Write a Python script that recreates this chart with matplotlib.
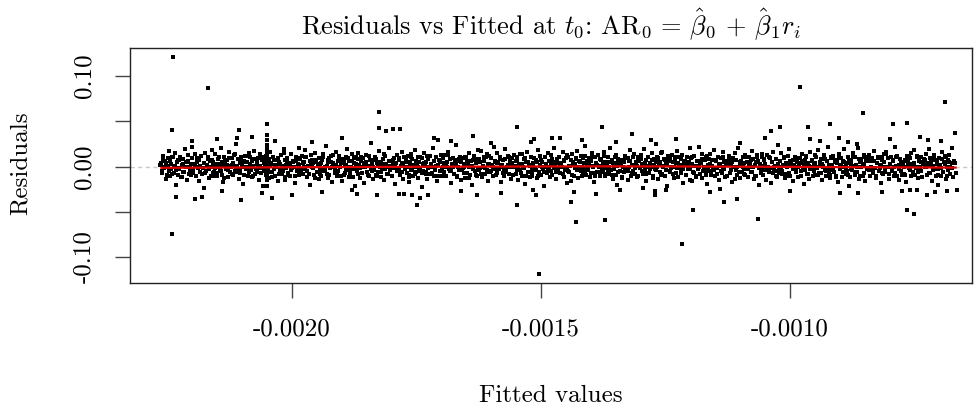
import numpy as np
import matplotlib
matplotlib.use("Agg")
import matplotlib.pyplot as plt

plt.rcParams['font.family'] = 'cmr10'
plt.rcParams['mathtext.fontset'] = 'cm'
plt.rcParams['axes.unicode_minus'] = False

# fitted values, in units of -1e-6 (so 2262 means -0.002262)
fitted_neg_micro = [
    2262, 2260, 2259, 2257, 2255, 2252, 2251, 2249, 2247, 2246, 2244, 2242, 2240, 2239, 2236, 2234, 2233, 2231, 2229, 2227,
    2226, 2225, 2223, 2221, 2219, 2218, 2215, 2213, 2211, 2210, 2208, 2205, 2204, 2202, 2200, 2198, 2197, 2195, 2193, 2191,
    2191, 2189, 2187, 2186, 2184, 2182, 2180, 2177, 2176, 2174, 2172, 2171, 2169, 2167, 2164, 2163, 2161, 2159, 2158, 2156,
    2156, 2154, 2153, 2151, 2149, 2146, 2145, 2143, 2141, 2140, 2138, 2136, 2134, 2133, 2130, 2128, 2127, 2125, 2123, 2121,
    2120, 2119, 2117, 2115, 2113, 2112, 2109, 2107, 2105, 2104, 2102, 2099, 2098, 2096, 2094, 2092, 2091, 2089, 2087, 2085,
    2085, 2083, 2081, 2080, 2078, 2076, 2074, 2071, 2070, 2068, 2066, 2065, 2063, 2061, 2058, 2057, 2055, 2053, 2052, 2050,
    2049, 2047, 2046, 2044, 2042, 2039, 2038, 2036, 2034, 2033, 2031, 2029, 2027, 2026, 2023, 2021, 2020, 2018, 2016, 2014,
    2014, 2013, 2011, 2009, 2007, 2006, 2003, 2001, 1999, 1998, 1996, 1993, 1992, 1990, 1988, 1986, 1985, 1983, 1981, 1979,
    1978, 1976, 1974, 1973, 1971, 1969, 1967, 1964, 1963, 1961, 1959, 1958, 1956, 1954, 1951, 1950, 1948, 1946, 1945, 1943,
    1943, 1941, 1940, 1938, 1936, 1933, 1932, 1930, 1928, 1927, 1925, 1923, 1921, 1920, 1917, 1915, 1914, 1912, 1910, 1908,
    1907, 1906, 1904, 1902, 1900, 1899, 1896, 1894, 1892, 1891, 1889, 1886, 1885, 1883, 1881, 1879, 1878, 1876, 1874, 1872,
    1872, 1870, 1868, 1867, 1865, 1863, 1861, 1858, 1857, 1855, 1853, 1852, 1850, 1848, 1845, 1844, 1842, 1840, 1839, 1837,
    1837, 1835, 1834, 1832, 1830, 1827, 1826, 1824, 1822, 1821, 1819, 1817, 1815, 1814, 1811, 1809, 1808, 1806, 1804, 1802,
    1801, 1800, 1798, 1796, 1794, 1793, 1790, 1788, 1786, 1785, 1783, 1780, 1779, 1777, 1775, 1773, 1772, 1770, 1768, 1766,
    1766, 1764, 1762, 1761, 1759, 1757, 1755, 1752, 1751, 1749, 1747, 1746, 1744, 1742, 1739, 1738, 1736, 1734, 1733, 1731,
    1730, 1728, 1727, 1725, 1723, 1720, 1719, 1717, 1715, 1714, 1712, 1710, 1708, 1707, 1704, 1702, 1701, 1699, 1697, 1695,
    1695, 1694, 1692, 1690, 1688, 1687, 1684, 1682, 1680, 1679, 1677, 1674, 1673, 1671, 1669, 1667, 1666, 1664, 1662, 1660,
    1659, 1657, 1655, 1654, 1652, 1650, 1648, 1645, 1644, 1642, 1640, 1639, 1637, 1635, 1632, 1631, 1629, 1627, 1626, 1624,
    1624, 1622, 1621, 1619, 1617, 1614, 1613, 1611, 1609, 1608, 1606, 1604, 1602, 1601, 1598, 1596, 1595, 1593, 1591, 1589,
    1589, 1588, 1586, 1584, 1582, 1581, 1578, 1576, 1574, 1573, 1571, 1568, 1567, 1565, 1563, 1561, 1560, 1558, 1556, 1554,
    1553, 1551, 1549, 1548, 1546, 1544, 1542, 1539, 1538, 1536, 1534, 1533, 1531, 1529, 1526, 1525, 1523, 1521, 1520, 1518,
    1518, 1516, 1515, 1513, 1511, 1508, 1507, 1505, 1503, 1502, 1500, 1498, 1496, 1495, 1492, 1490, 1489, 1487, 1485, 1483,
    1482, 1481, 1479, 1477, 1475, 1474, 1471, 1469, 1467, 1466, 1464, 1461, 1460, 1458, 1456, 1454, 1453, 1451, 1449, 1447,
    1447, 1445, 1443, 1442, 1440, 1438, 1436, 1433, 1432, 1430, 1428, 1427, 1425, 1423, 1420, 1419, 1417, 1415, 1414, 1412,
    1411, 1409, 1408, 1406, 1404, 1401, 1400, 1398, 1396, 1395, 1393, 1391, 1389, 1388, 1385, 1383, 1382, 1380, 1378, 1376,
    1376, 1375, 1373, 1371, 1369, 1368, 1365, 1363, 1361, 1360, 1358, 1355, 1354, 1352, 1350, 1348, 1347, 1345, 1343, 1341,
    1340, 1338, 1336, 1335, 1333, 1331, 1329, 1326, 1325, 1323, 1321, 1320, 1318, 1316, 1313, 1312, 1310, 1308, 1307, 1305,
    1305, 1303, 1302, 1300, 1298, 1295, 1294, 1292, 1290, 1289, 1287, 1285, 1283, 1282, 1279, 1277, 1276, 1274, 1272, 1270,
    1270, 1269, 1267, 1265, 1263, 1262, 1259, 1257, 1255, 1254, 1252, 1249, 1248, 1246, 1244, 1242, 1241, 1239, 1237, 1235,
    1234, 1232, 1230, 1229, 1227, 1225, 1223, 1220, 1219, 1217, 1215, 1214, 1212, 1210, 1207, 1206, 1204, 1202, 1201, 1199,
    1199, 1197, 1196, 1194, 1192, 1189, 1188, 1186, 1184, 1183, 1181, 1179, 1177, 1176, 1173, 1171, 1170, 1168, 1166, 1164,
    1163, 1162, 1160, 1158, 1156, 1155, 1152, 1150, 1148, 1147, 1145, 1142, 1141, 1139, 1137, 1135, 1134, 1132, 1130, 1128,
    1128, 1126, 1124, 1123, 1121, 1119, 1117, 1114, 1113, 1111, 1109, 1108, 1106, 1104, 1101, 1100, 1098, 1096, 1095, 1093,
    1092, 1090, 1089, 1087, 1085, 1082, 1081, 1079, 1077, 1076, 1074, 1072, 1070, 1069, 1066, 1064, 1063, 1061, 1059, 1057,
    1057, 1056, 1054, 1052, 1050, 1049, 1046, 1044, 1042, 1041, 1039, 1036, 1035, 1033, 1031, 1029, 1028, 1026, 1024, 1022,
    1022, 1020, 1018, 1017, 1015, 1013, 1011, 1008, 1007, 1005, 1003, 1002, 1000, 998, 995, 994, 992, 990, 989, 987,
    986, 984, 983, 981, 979, 976, 975, 973, 971, 970, 968, 966, 964, 963, 960, 958, 957, 955, 953, 951,
    951, 950, 948, 946, 944, 943, 940, 938, 936, 935, 933, 930, 929, 927, 925, 923, 922, 920, 918, 916,
    915, 913, 911, 910, 908, 906, 904, 901, 900, 898, 896, 895, 893, 891, 888, 887, 885, 883, 882, 880,
    880, 878, 877, 875, 873, 870, 869, 867, 865, 864, 862, 860, 858, 857, 854, 852, 851, 849, 847, 845,
    844, 843, 841, 839, 837, 836, 833, 831, 829, 828, 826, 823, 822, 820, 818, 816, 815, 813, 811, 809,
    809, 807, 805, 804, 802, 800, 798, 795, 794, 792, 790, 789, 787, 785, 782, 781, 779, 777, 776, 774,
    773, 771, 770, 768, 766, 763, 762, 760, 758, 757, 755, 753, 751, 750, 747, 745, 744, 742, 740, 738,
    738, 737, 735, 733, 731, 730, 727, 725, 723, 722, 720, 717, 716, 714, 712, 710, 709, 707, 705, 703,
    703, 701, 699, 698, 696, 694, 692, 689, 688, 686, 684, 683, 681, 679, 676, 675, 673, 671, 670, 668,
]

# residuals, in units of 1e-3, same order as fitted_neg_micro
resid_milli = [
    4, -7, 12, -2, 6, -14, 1, 9, -5, 17, -10, 3, -8, 11, -1, 15, -20, 5, -9, 7,
    -3, 10, -12, 2, 8, -6, 19, -1, -15, 5, 13, -4, 0, -9, 22, -7, 3, 14, -11, 6,
    9, -2, -16, 7, 1, 12, -8, 4, -24, 15, -5, 2, 10, -13, 6, -1, 18, -7, 3, -10,
    -6, 14, 3, -11, 8, 0, -4, 21, -9, 5, -17, 11, 2, -3, 7, -12, 16, -6, 1, 9,
    2, -9, 13, -5, 25, -1, 8, -14, 4, -7, 10, 0, -19, 6, 12, -3, 5, -10, 15, -2,
    11, -4, 6, -12, 1, 17, -8, 3, -6, 9, -15, 14, -2, 7, -21, 4, 0, 12, -9, 5,
    -1, 8, -13, 16, 3, -6, 10, -3, 28, -10, 2, 7, -16, 5, -4, 13, -8, 1, 19, -12,
    7, -15, 2, 9, -7, 4, -11, 14, -2, 6, 0, -18, 11, -5, 3, 20, -9, 8, -3, 12,
    -8, 5, 18, -3, 10, -12, 1, 6, -20, 13, -1, 4, -9, 15, 7, -6, 2, -14, 9, -4,
    3, -10, 7, 14, -5, 0, 23, -8, 5, -13, 9, -2, 12, -17, 4, 1, -7, 16, -11, 6,
    -5, 12, -1, 4, -16, 8, -9, 2, 11, -4, 19, -12, 6, -7, 0, 14, -3, 9, -22, 3,
    10, -3, -8, 15, 2, -13, 6, -1, 9, -18, 4, 13, -6, 1, -10, 7, 26, -5, 2, -14,
    -2, 7, 11, -9, 4, -6, 17, 0, -12, 5, -3, 8, -15, 12, 3, -8, 1, 21, -4, 6,
    6, -11, 3, 9, -19, 1, 13, -5, 7, -2, -9, 16, 4, -14, 10, -1, 5, -7, 12, -17,
    -9, 2, 14, -4, 8, -10, 0, 18, -6, 3, 11, -13, 5, -2, -23, 9, -5, 15, 1, -8,
    5, -14, 8, -1, 12, 3, -7, 20, -10, 6, -3, 10, -16, 2, 7, -5, 13, -11, 0, 4,
    13, -6, 1, -10, 5, 16, -3, 8, -18, 2, 9, -8, 4, 24, -12, 0, 6, -4, 11, -15,
    -4, 9, -7, 3, -13, 11, 6, -1, 15, -9, 1, -20, 7, 12, -5, 4, -11, 18, -2, 8,
    8, -2, 17, -12, 0, 6, -8, 10, -4, 14, -16, 3, -6, 9, 1, -10, 22, -3, 5, -7,
    -7, 15, 4, -3, 10, -17, 2, 7, -11, 19, -5, 0, 12, -8, 6, -14, 3, 9, -1, 13,
    1, -8, 11, 6, -15, 3, -4, 14, -10, 0, 8, -19, 5, 16, -6, 2, -12, 10, 27, -3,
    -11, 4, 9, -2, 7, -13, 18, -6, 1, 12, -9, 5, -3, -21, 10, 3, -7, 15, -1, 6,
    6, -5, 13, -9, 2, 20, -1, -14, 8, -3, 11, -7, 4, 0, 16, -12, 7, -4, 9, -18,
    -3, 10, -6, 1, -16, 14, 5, -10, 3, 8, -2, 17, -13, 6, -5, 12, 0, -8, 4, 23,
    12, -9, 2, -4, 9, -12, 6, 15, -7, 1, -17, 10, 3, -6, 13, -1, -11, 7, -3, 5,
    -6, 3, 16, -11, 5, -2, 10, -8, 21, -4, 7, -14, 1, 11, -9, 4, -20, 8, 2, -5,
    4, -13, 7, 0, -6, 12, -3, 9, -15, 6, 18, -10, 2, -5, 14, -8, 5, 1, -12, 10,
    -10, 6, -2, 13, 3, -8, 19, -4, 7, -16, 1, 11, -7, 4, -1, 15, -13, 8, -3, 25,
    7, -4, 10, -14, 2, 5, -9, 16, -1, 8, -11, 3, -22, 12, 6, -5, 9, -2, 13, -8,
    -1, 11, -7, 4, 17, -12, 0, 8, -5, 13, -18, 6, 2, -9, 10, -3, 5, -15, 20, 1,
    9, -16, 3, -6, 12, 1, -10, 6, -3, 22, -8, 4, 14, -13, 0, 7, -5, 11, -19, 2,
    -5, 8, 14, -9, 1, -4, 18, -11, 6, -2, 10, -15, 3, 9, -7, 16, -1, 5, -12, 4,
    3, -11, 6, 12, -7, 2, -17, 9, 0, 15, -4, 7, -9, 21, -13, 5, 1, -6, 10, -2,
    -8, 13, -3, 5, -12, 10, 4, -6, 17, -1, 8, -14, 2, -10, 11, 6, -20, 3, -4, 14,
    11, -2, -9, 7, 3, -15, 13, 0, -6, 9, -18, 5, 16, -3, 1, -11, 8, -5, 24, -7,
    -4, 6, 15, -8, 2, 10, -13, 4, -1, 12, -7, 19, -10, 3, -16, 7, 0, 11, -5, 8,
    5, -12, 1, 9, -5, 14, -3, -19, 7, 2, 11, -8, 4, -14, 16, -2, 6, -10, 3, 13,
    -9, 4, 10, -1, 18, -7, 3, 8, -15, 1, 13, -4, -11, 6, 22, -6, 2, -13, 9, 0,
    2, 12, -6, 5, -10, 7, -17, 14, -3, 9, 0, -12, 6, 19, -8, 3, -5, 11, -21, 4,
    -12, 7, 3, -4, 15, -9, 10, 1, -6, 20, -14, 5, -1, 8, -10, 13, 2, -16, 6, -3,
    8, -3, 13, -11, 0, 6, -7, 17, -2, -13, 4, 10, -5, 2, -18, 11, 7, -8, 14, -1,
    -6, 16, -1, 9, -14, 3, 11, -4, 6, -10, 22, -7, 1, 12, -3, -15, 8, 4, -9, 5,
    1, -8, 7, -17, 12, 5, -2, 9, -11, 15, 3, -6, 18, -9, 0, 10, -13, 6, -4, 11,
    10, -5, -12, 4, 8, -1, 14, -9, 2, 19, -7, 6, -16, 1, 11, -3, 7, -11, 3, -20,
    -3, 9, 2, -10, 16, -6, 5, 12, -14, 0, 7, -4, 13, -8, 21, -2, -12, 6, 4, -7,
]

# second batch of points near the centre of the band (same units)
inner_neg_micro = [
    2264, 2261, 2259, 2256, 2253, 2251, 2248, 2245, 2243, 2240, 2237, 2235, 2232, 2229, 2227, 2224, 2221, 2219, 2216, 2213,
    2211, 2209, 2206, 2203, 2201, 2198, 2195, 2193, 2190, 2187, 2185, 2182, 2179, 2177, 2174, 2171, 2169, 2166, 2163, 2160,
    2158, 2155, 2153, 2150, 2147, 2145, 2142, 2139, 2137, 2134, 2131, 2129, 2126, 2123, 2121, 2118, 2115, 2113, 2110, 2107,
    2105, 2103, 2100, 2097, 2095, 2092, 2089, 2087, 2084, 2081, 2079, 2076, 2073, 2071, 2068, 2065, 2063, 2060, 2057, 2054,
    2052, 2049, 2047, 2044, 2041, 2039, 2036, 2033, 2031, 2028, 2025, 2023, 2020, 2017, 2015, 2012, 2009, 2007, 2004, 2001,
    1999, 1997, 1994, 1991, 1989, 1986, 1983, 1981, 1978, 1975, 1973, 1970, 1967, 1965, 1962, 1959, 1957, 1954, 1951, 1948,
    1946, 1943, 1941, 1938, 1935, 1933, 1930, 1927, 1925, 1922, 1919, 1917, 1914, 1911, 1909, 1906, 1903, 1901, 1898, 1895,
    1893, 1891, 1888, 1885, 1883, 1880, 1877, 1875, 1872, 1869, 1867, 1864, 1861, 1859, 1856, 1853, 1851, 1848, 1845, 1842,
    1840, 1837, 1835, 1832, 1829, 1827, 1824, 1821, 1819, 1816, 1813, 1811, 1808, 1805, 1803, 1800, 1797, 1795, 1792, 1789,
    1787, 1785, 1782, 1779, 1777, 1774, 1771, 1769, 1766, 1763, 1761, 1758, 1755, 1753, 1750, 1747, 1745, 1742, 1739, 1736,
    1734, 1731, 1729, 1726, 1723, 1721, 1718, 1715, 1713, 1710, 1707, 1705, 1702, 1699, 1697, 1694, 1691, 1689, 1686, 1683,
    1681, 1679, 1676, 1673, 1671, 1668, 1665, 1663, 1660, 1657, 1655, 1652, 1649, 1647, 1644, 1641, 1639, 1636, 1633, 1630,
    1628, 1625, 1623, 1620, 1617, 1615, 1612, 1609, 1607, 1604, 1601, 1599, 1596, 1593, 1591, 1588, 1585, 1583, 1580, 1577,
    1575, 1573, 1570, 1567, 1565, 1562, 1559, 1557, 1554, 1551, 1549, 1546, 1543, 1541, 1538, 1535, 1533, 1530, 1527, 1524,
    1522, 1519, 1517, 1514, 1511, 1509, 1506, 1503, 1501, 1498, 1495, 1493, 1490, 1487, 1485, 1482, 1479, 1477, 1474, 1471,
    1469, 1467, 1464, 1461, 1459, 1456, 1453, 1451, 1448, 1445, 1443, 1440, 1437, 1435, 1432, 1429, 1427, 1424, 1421, 1418,
    1416, 1413, 1411, 1408, 1405, 1403, 1400, 1397, 1395, 1392, 1389, 1387, 1384, 1381, 1379, 1376, 1373, 1371, 1368, 1365,
    1363, 1361, 1358, 1355, 1353, 1350, 1347, 1345, 1342, 1339, 1337, 1334, 1331, 1329, 1326, 1323, 1321, 1318, 1315, 1312,
    1310, 1307, 1305, 1302, 1299, 1297, 1294, 1291, 1289, 1286, 1283, 1281, 1278, 1275, 1273, 1270, 1267, 1265, 1262, 1259,
    1257, 1255, 1252, 1249, 1247, 1244, 1241, 1239, 1236, 1233, 1231, 1228, 1225, 1223, 1220, 1217, 1215, 1212, 1209, 1206,
    1204, 1201, 1199, 1196, 1193, 1191, 1188, 1185, 1183, 1180, 1177, 1175, 1172, 1169, 1167, 1164, 1161, 1159, 1156, 1153,
    1151, 1149, 1146, 1143, 1141, 1138, 1135, 1133, 1130, 1127, 1125, 1122, 1119, 1117, 1114, 1111, 1109, 1106, 1103, 1100,
    1098, 1095, 1093, 1090, 1087, 1085, 1082, 1079, 1077, 1074, 1071, 1069, 1066, 1063, 1061, 1058, 1055, 1053, 1050, 1047,
    1045, 1043, 1040, 1037, 1035, 1032, 1029, 1027, 1024, 1021, 1019, 1016, 1013, 1011, 1008, 1005, 1003, 1000, 997, 994,
    992, 989, 987, 984, 981, 979, 976, 973, 971, 968, 965, 963, 960, 957, 955, 952, 949, 947, 944, 941,
    939, 937, 934, 931, 929, 926, 923, 921, 918, 915, 913, 910, 907, 905, 902, 899, 897, 894, 891, 888,
    886, 883, 881, 878, 875, 873, 870, 867, 865, 862, 859, 857, 854, 851, 849, 846, 843, 841, 838, 835,
    833, 831, 828, 825, 823, 820, 817, 815, 812, 809, 807, 804, 801, 799, 796, 793, 791, 788, 785, 782,
    780, 777, 775, 772, 769, 767, 764, 761, 759, 756, 753, 751, 748, 745, 743, 740, 737, 735, 732, 729,
    727, 725, 722, 719, 717, 714, 711, 709, 706, 703, 701, 698, 695, 693, 690, 687, 685, 682, 679, 676,
]
inner_milli = [
    2, -5, 8, -1, 4, -9, 0, 6, -3, 11, -7, 1, -4, 7, -2, 10, -12, 3, -6, 5,
    -1, 6, -8, 3, 9, -4, 1, -10, 5, 0, -6, 12, -2, 4, -7, 2, 8, -3, -11, 7,
    5, -2, 0, -7, 10, 3, -5, 1, -13, 6, 2, -4, 9, -1, -8, 4, 14, -6, 1, -3,
    -4, 7, 2, -9, 5, -1, 12, -6, 3, 0, -11, 8, -3, 6, -2, 1, -7, 10, -5, 4,
    8, -3, -6, 1, 4, -12, 7, 2, -1, 9, -8, 3, 0, -5, 15, -2, 6, -9, 2, -4,
    0, 5, -10, 6, -3, 2, 9, -7, 4, -1, 11, -5, 1, -8, 3, 7, -2, -13, 5, -6,
    3, -8, 4, 11, -2, -5, 1, 7, -9, 5, -1, 13, -4, 2, -6, 8, 0, -10, 4, 6,
    -7, 2, 9, -3, 0, 6, -12, 4, 1, -5, 8, -2, 10, -7, 3, -1, 5, -9, 12, -3,
    6, -1, -4, 8, -10, 2, 5, -6, 3, 14, -3, 0, -8, 6, 1, -11, 7, -2, 4, -5,
    -2, 9, 1, -6, 4, -3, 7, 0, -12, 5, 10, -4, 2, -8, 6, -1, -5, 11, -7, 3,
    4, -6, 12, -2, -8, 3, 0, 6, -4, 1, -10, 7, 5, -3, 9, -7, 2, -1, 13, -5,
    -5, 3, -1, 7, 2, -11, 8, -4, 5, -2, 0, 10, -7, 3, -13, 6, 1, -3, 8, -9,
    7, -4, 5, -8, 1, 10, -2, -6, 3, 12, -5, 2, -1, 6, -9, 4, -3, 8, 0, -7,
    -3, 8, -6, 2, 11, -1, 4, -9, 0, 6, -4, 1, 14, -7, 3, -2, 9, -11, 5, 2,
    1, -7, 3, 9, -4, 5, -10, 2, 7, -1, -6, 11, 0, -3, 6, -12, 4, 8, -2, 5,
    -6, 4, 10, -1, 2, -8, 6, -3, 13, -5, 1, 7, -9, 3, -2, 9, -4, 0, 5, -11,
    9, -2, -5, 6, 0, 3, -7, 11, -1, -10, 4, 2, -6, 8, 1, -3, 12, -8, 3, -4,
    -1, 5, -9, 4, -3, 13, 1, -6, 7, 2, -12, 5, -2, 9, -5, 0, 6, -7, 10, -2,
    3, -10, 6, -2, 8, -5, 1, 4, -8, 11, 0, -3, 7, -11, 2, 5, -1, 9, -6, 15,
    -8, 1, 7, -4, 3, 9, -6, 0, 5, -13, 8, -2, 4, 10, -7, 2, -3, 6, -9, 1,
    5, -3, 2, 10, -7, 1, -12, 6, -1, 4, 8, -5, 0, -9, 12, -2, 3, -6, 7, -4,
    -2, 7, -8, 3, 1, -5, 11, -3, 6, -10, 2, 9, -4, 5, -1, -14, 7, 0, -6, 4,
    6, -1, 4, -9, 10, -3, 2, 7, -6, 0, -11, 5, 13, -2, 3, -7, 1, 8, -4, -1,
    -4, 11, -2, 5, -7, 0, 8, -12, 3, 6, -1, -5, 9, -8, 2, 4, -10, 6, 1, -3,
    2, -6, 9, -1, 4, -10, 6, 3, -4, 12, -8, 1, -3, 7, 0, -5, 10, -2, -9, 5,
    -7, 3, 0, 8, -5, 6, -2, -9, 11, 1, -4, 7, -12, 4, 9, -1, 2, -6, 5, -3,
    4, -9, 7, -3, 1, 12, -6, 2, -1, 8, -11, 5, 3, -7, 10, -2, 6, -4, 0, 9,
    -3, 6, -11, 4, 9, -2, 1, -7, 5, -4, 14, 0, -8, 3, -5, 7, -1, 11, -10, 2,
    8, -5, 3, -1, -9, 6, 2, 10, -4, 1, -7, 4, -2, 12, -6, 0, 5, -12, 3, 7,
    -1, 4, -7, 9, 2, -4, 13, -3, 6, -9, 1, -2, 8, -6, 3, 10, -11, 5, -1, 4,
]

# sparse points away from the main band (x in -1e-6, y in 1e-3)
outer_neg_micro = [
    2238, 2168, 2240, 2240, 1825, 2050, 1825, 1812, 1797, 1783, 2106, 2110,
    2232, 2195, 2180, 2102, 2039, 1999, 1870, 1785, 1727, 1829,
    1548, 1377, 1317, 1636, 1714, 1706, 1514, 1478, 1462, 1418, 1279,
    1748, 1759, 1775, 1742, 1628, 1548, 1510, 1517, 1440, 1430, 1371, 1195,
    1218, 1505, 1434, 1272, 1272, 1342, 1296,
    981, 690, 853, 1039, 1020, 965, 921, 793, 765, 670, 960, 901, 724, 698, 883, 866,
    1132, 1106, 1064, 765, 751, 864, 815, 775, 759, 745, 725, 710, 685, 666, 1160, 1140,
    2050, 2050, 2050, 2050, 2050, 2050, 2050, 2050, 2050, 2050, 2050, 2050, 2050, 2050,
    2200, 2150, 2080, 1960, 1900, 1680, 1600, 1350, 1230, 1100, 1050, 940, 800, 740,
    2140, 2060, 1940, 1880, 1660, 1580, 1390, 1250, 1000, 900,
]
outer_milli = [
    121, 87, 40, -74, 60, 47, 43, 39, 42, 41, 40, 31,
    -34, -36, -34, -37, -35, -32, -30, -30, -31, -32,
    44, 44, 36, 34, 31, 29, 30, 31, 31, 29, 29,
    -43, -31, -30, -35, -32, -43, -31, -26, -39, -61, -59, -48,
    -86, -119, -28, -31, -27, -26, -24,
    88, 71, 59, 39, 44, 44, 47, 47, 48, 37, 30, 31, 29, 28, 27, 25,
    -39, -36, -58, -48, -52, -29, -28, -27, -26, -26, -32, -28, -27, -26, -28, -25,
    35, 29, 24, 19, 15, 12, 8, 5, 2, -2, -6, -10, -15, -21,
    28, 30, 33, 27, 31, 28, 26, 27, 30, 26, 31, 28, 30, 33,
    -27, -29, -28, -26, -27, -29, -30, -26, -27, -29,
]

# smoothed trend (red line)
smooth_neg_micro = [2262, 2150, 2000, 1850, 1700, 1550, 1400, 1250, 1100, 950, 800, 668]
smooth_milli = [-1.4, -1.2, -0.8, -0.5, -0.2, 0.0, 0.2, 0.1, -0.2, -0.5, -0.9, -1.2]

x_ticks = [-0.0020, -0.0015, -0.0010]
x_tick_labels = ['-0.0020', '-0.0015', '-0.0010']
y_ticks = [-0.10, -0.05, 0.0, 0.05, 0.10]
y_tick_labels = ['-0.10', '', '0.00', '', '0.10']

fitted = -np.array(fitted_neg_micro + inner_neg_micro + outer_neg_micro) * 1e-6
resid = np.array(resid_milli + inner_milli + outer_milli) * 1e-3
sx = -np.array(smooth_neg_micro) * 1e-6
sy = np.array(smooth_milli) * 1e-3

W, H = 977, 409
fig = plt.figure(figsize=(W / 100, H / 100), dpi=100)
ax = fig.add_axes([130 / W, 1 - 283.3 / H, 842 / W, 235 / H])

ax.axhline(0, color='#c8c8c8', lw=1.0, dashes=(3, 2.5), zorder=1)
ax.plot(fitted, resid, linestyle='none', marker='s', ms=2.2, mew=0, color='black', zorder=2)
ax.plot(sx, sy, color='#e00000', lw=1.6, zorder=3)

ax.set_xlim(-0.002325, -0.000635)
ax.set_ylim(-0.129, 0.1306)

ax.set_xticks(x_ticks)
ax.set_xticklabels(x_tick_labels)
ax.set_yticks(y_ticks)
ax.set_yticklabels(y_tick_labels, rotation=90, va='center')

ax.tick_params(axis='both', direction='out', length=11, width=1.0, color='#444444', labelsize=18)
ax.tick_params(axis='x', pad=14)
ax.tick_params(axis='y', pad=14)
for s in ax.spines.values():
    s.set_color('#222222')
    s.set_linewidth(1.0)

fig.text(551 / W, 1 - 35 / H,
         r'Residuals vs Fitted at $t_0$: $\mathrm{AR}_0 \,=\, \hat{\beta}_0 \,+\, \hat{\beta}_1 r_i$',
         ha='center', va='baseline', fontsize=19)
fig.text(551 / W, 1 - 402 / H, 'Fitted values', ha='center', va='baseline', fontsize=18)
fig.text(21 / W, 1 - 163 / H, 'Residuals', ha='center', va='center', rotation=90, fontsize=18)

fig.savefig('out.png', dpi=100)
